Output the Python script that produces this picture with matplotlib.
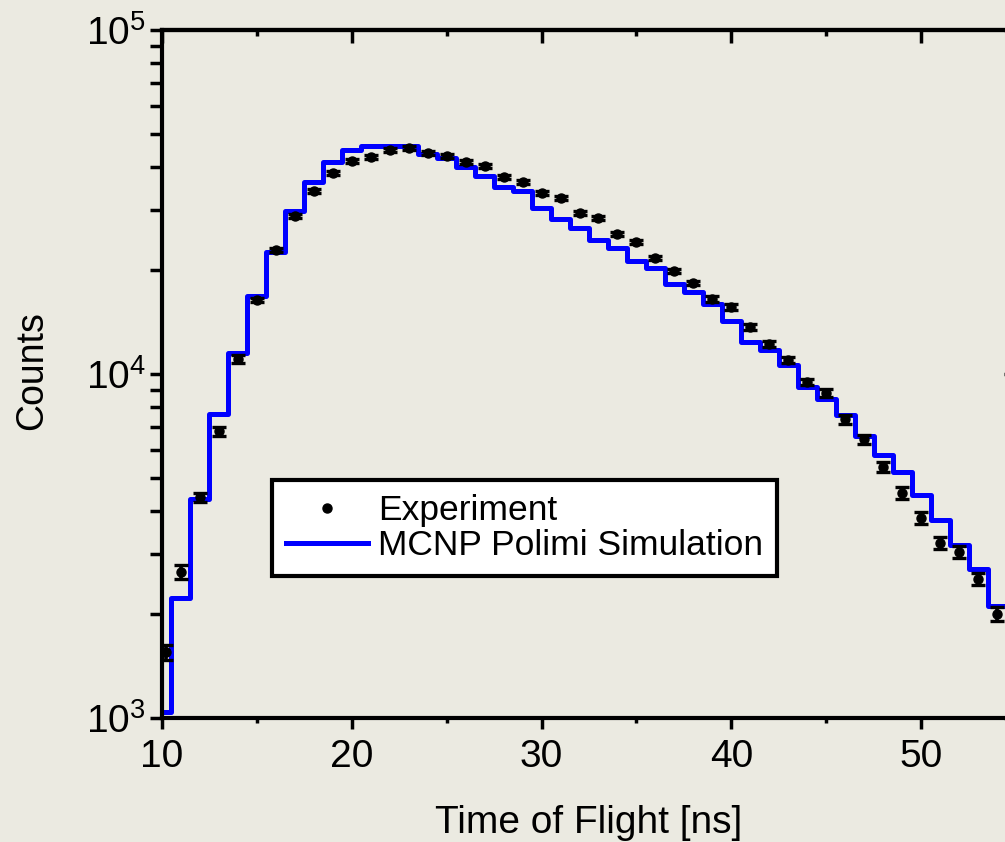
#!/usr/bin/env python3

# plot.py - time of flight spectrum, experiment vs MCNP Polimi simulation

import matplotlib
matplotlib.use("Agg")
import matplotlib.pyplot as plt
from matplotlib.lines import Line2D
from matplotlib.ticker import MultipleLocator, LogLocator, NullFormatter

# experiment: time of flight [ns], counts, relative error
exp_t = [10.2] + list(range(11, 55))
exp_counts = [1556, 2657, 4389, 6830, 11060, 16410, 22930, 28800, 34040, 38390,
              41610, 42740, 44790, 45390, 43900, 43030, 41330, 40240, 37380, 36150,
              33590, 32480, 29380, 28410, 25530, 24190, 21740, 19930, 18390, 16520,
              15660, 13700, 12230, 10980, 9480, 8810, 7400, 6470, 5370, 4510,
              3815, 3227, 3038, 2536, 2006]
exp_relerr = [0.05, 0.045, 0.03, 0.03, 0.025, 0.015, 0.015, 0.015, 0.015, 0.015,
              0.015, 0.015, 0.015, 0.015, 0.015, 0.015, 0.015, 0.015, 0.015, 0.015,
              0.015, 0.015, 0.015, 0.015, 0.015, 0.015, 0.015, 0.015, 0.015, 0.02,
              0.02, 0.02, 0.02, 0.02, 0.02, 0.025, 0.03, 0.03, 0.035, 0.04,
              0.04, 0.04, 0.04, 0.04, 0.045]

# simulation histogram (bin centres in ns)
sim_t = list(range(10, 56))
sim_counts = [1041, 2233, 4330, 7650, 11510, 16860, 22620, 29770, 36150, 41330,
              44790, 46000, 46000, 46000, 43610, 42460, 39970, 37630, 34960, 34040,
              30380, 28220, 26570, 24520, 23250, 21310, 20330, 18260, 17310, 15980,
              14260, 12390, 11740, 10620, 9170, 8460, 7600, 6600, 5810, 5190,
              4450, 3760, 3180, 2710, 2120, 1700]

BG = "#ebeae1"

plt.rcParams["font.family"] = ["Liberation Sans", "DejaVu Sans"]
plt.rcParams["mathtext.fontset"] = "custom"
plt.rcParams["mathtext.rm"] = "Liberation Sans"
plt.rcParams["mathtext.default"] = "regular"

fig = plt.figure(figsize=(10.05, 8.42), dpi=100, facecolor=BG)
# axes runs past the right edge of the picture, like the original crop
ax = fig.add_axes([162 / 1005, 124 / 842, 854 / 1005, 688 / 842], facecolor=BG)

ax.step(sim_t, sim_counts, where="mid", color="#0000ff", lw=3.6, zorder=2)

yerr = [c * e for c, e in zip(exp_counts, exp_relerr)]
ax.errorbar(exp_t, exp_counts, yerr=yerr, fmt="o", color="black", ms=6.5,
            elinewidth=2.6, capsize=5, capthick=2.4, zorder=3)

ax.set_yscale("log")
ax.set_xlim(10, 55)
ax.set_ylim(1e3, 1e5)

ax.xaxis.set_major_locator(MultipleLocator(10))
ax.xaxis.set_minor_locator(MultipleLocator(5))
ax.yaxis.set_major_locator(LogLocator(base=10))
ax.yaxis.set_minor_locator(LogLocator(base=10, subs=range(2, 10)))
ax.yaxis.set_minor_formatter(NullFormatter())

for s in ax.spines.values():
    s.set_linewidth(3)

ax.tick_params(axis="x", which="major", direction="out", length=8, width=2.5,
               labelsize=28, pad=7, top=False)
ax.tick_params(axis="x", which="minor", direction="out", length=3.5, width=2.5, top=False)
ax.tick_params(axis="y", which="major", direction="out", length=8.5, width=2.5,
               labelsize=28, pad=3, right=False)
ax.tick_params(axis="y", which="minor", direction="out", length=8.5, width=2.5, right=False)

# inward ticks on the top and right edges
sec_x = ax.secondary_xaxis("top")
sec_x.xaxis.set_major_locator(MultipleLocator(10))
sec_x.xaxis.set_minor_locator(MultipleLocator(5))
sec_x.tick_params(which="major", direction="in", length=9, width=2.5, labeltop=False)
sec_x.tick_params(which="minor", direction="in", length=4, width=2.5)
sec_x.spines["top"].set_linewidth(3)
sec_y = ax.secondary_yaxis("right")
sec_y.tick_params(which="major", direction="in", length=9, width=2.5, labelright=False)
sec_y.tick_params(which="minor", direction="in", length=4, width=2.5, labelright=False)

ax.set_xlabel("Time of Flight [ns]", fontsize=28)
ax.set_ylabel("Counts", fontsize=27)
ax.xaxis.set_label_coords(0.5, -0.126)
ax.yaxis.set_label_coords(-0.131, 0.505)

handles = [
    Line2D([], [], ls="none", marker="o", color="black", ms=6.5),
    Line2D([], [], color="#0000ff", lw=3.6),
]
leg = fig.legend(handles, ["Experiment", "MCNP Polimi Simulation"],
                 loc="upper left", bbox_to_anchor=(272 / 1005, 1 - 480 / 842),
                 fontsize=25.5, frameon=True, fancybox=False, framealpha=1,
                 edgecolor="black", facecolor="white", handlelength=2.3,
                 handletextpad=0.3, labelspacing=0.05, borderpad=0.4,
                 borderaxespad=0)
leg.get_frame().set_linewidth(3)

fig.savefig("out.png", dpi=100, facecolor=BG)
